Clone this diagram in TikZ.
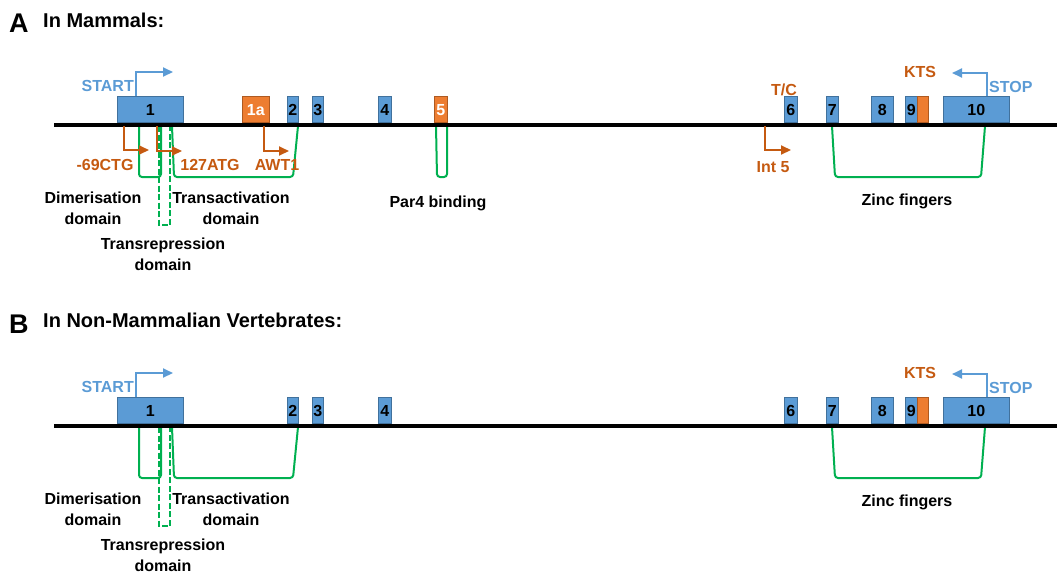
\documentclass[tikz,border=0pt]{standalone}
\usepackage{fontspec}
\setmainfont{Liberation Sans}
\usetikzlibrary{arrows.meta,calc}

\definecolor{exonblue}{HTML}{5B9BD5}
\definecolor{exonedge}{HTML}{41719C}
\definecolor{exonorange}{HTML}{ED7D31}
\definecolor{orangeedge}{HTML}{AE5A21}
\definecolor{labelorange}{HTML}{C55A11}
\definecolor{domaingreen}{HTML}{00B050}

\tikzset{
  dna/.style={line width=4pt, black},
  exon/.style={draw=exonedge, fill=exonblue, line width=0.7pt, inner sep=0pt,
    minimum height=26pt, anchor=south west, font=\bfseries\fontsize{16}{19}\selectfont},
  altexon/.style={exon, draw=orangeedge, fill=exonorange, text=white},
  startarrow/.style={draw=exonblue, line width=2pt,
    -{Triangle[length=10pt,width=9pt]}},
  altarrow/.style={draw=labelorange, line width=2pt,
    -{Triangle[length=10pt,width=9pt]}},
  domline/.style={draw=domaingreen, line width=2pt, rounded corners=3pt},
  repline/.style={draw=domaingreen, line width=2pt, dash pattern=on 6pt off 2.5pt},
  bluetag/.style={text=exonblue, font=\bfseries\fontsize{16}{19}\selectfont, inner sep=0pt},
  orangetag/.style={text=labelorange, font=\bfseries\fontsize{16}{19}\selectfont, inner sep=0pt},
  domtag/.style={font=\bfseries\fontsize{16}{21}\selectfont, align=center, inner sep=0pt},
  paneltag/.style={font=\bfseries\fontsize{27}{30}\selectfont, inner sep=0pt, anchor=base west},
  paneltitle/.style={font=\bfseries\fontsize{20}{24}\selectfont, inner sep=0pt, anchor=base west},
}

% Gene elements shared by both species panels; #1 prefixes every name
\newcommand\genecore[1]{%
  % protein domains hanging below the gene
  \draw[domline] (139,126) -- (139,177) -- (161,177) -- (161,126);
  \draw[repline] (159,126) -- (159,225) -- (170,225) -- (170,126);
  \draw[domline] (172,126) -- (174,177) -- (293,177) -- (298,126);
  \draw[domline] (832,126) -- (835,177) -- (981,177) -- (985,126);
  % DNA strand
  \coordinate (#1dnaL) at (54,124.5);
  \coordinate (#1dnaR) at (1057,124.5);
  \draw[dna] (#1dnaL) -- (#1dnaR);
  % exons
  \node[exon, minimum width=66pt] (#1e1) at (117,123) {1};
  \node[exon, minimum width=11pt] (#1e2) at (287,123) {2};
  \node[exon, minimum width=11pt] (#1e3) at (312,123) {3};
  \node[exon, minimum width=13pt] (#1e4) at (378,123) {4};
  \node[exon, minimum width=13pt] (#1e6) at (784,123) {6};
  \node[exon, minimum width=12pt] (#1e7) at (826,123) {7};
  \node[exon, minimum width=22pt] (#1e8) at (871,123) {8};
  \node[exon, minimum width=12pt] (#1e9) at (905,123) {9};
  \node[altexon, minimum width=11pt] (#1kts) at (917,123) {};
  \node[exon, minimum width=66pt] (#1e10) at (943,123) {10};
  % start and stop of translation
  \coordinate (#1startend) at (173,72);
  \draw[startarrow] ([xshift=19pt]#1e1.north west) |- (#1startend);
  \node[bluetag, anchor=base east] (#1start) at (134,91) {START};
  \coordinate (#1stopend) at (952,73);
  \draw[startarrow] ([xshift=44pt]#1e10.north west) |- (#1stopend);
  \node[bluetag, anchor=base west] (#1stop) at (989,92) {STOP};
  \node[orangetag, anchor=base] (#1ktslabel) at (920,77) {KTS};
  % domain names
  \node[domtag, anchor=north] (#1dim) at (93,192) {Dimerisation\\domain};
  \node[domtag, anchor=north] (#1tact) at (231,192) {Transactivation\\domain};
  \node[domtag, anchor=north] (#1trep) at (163,238) {Transrepression\\domain};
  \node[domtag, anchor=base] (#1zinc) at (907,205) {Zinc fingers};
}

\begin{document}
\begin{tikzpicture}[x=1pt, y=-1pt]
\useasboundingbox (0,0) rectangle (1057,574);

% ---------------- A: mammals ----------------
\node[paneltag] (tagA) at (9,32) {A};
\node[paneltitle] (titleA) at (43,27) {In Mammals:};
\draw[domline] (436,126) -- (437,177) -- (447,177) -- (447,126);
\genecore{A}
\node[altexon, minimum width=27pt] (A1a) at (242,123) {1a};
\node[altexon, minimum width=13pt] (Ae5) at (434,123) {5};
% alternative translation starts
\coordinate (Actgroot) at (124,126);
\coordinate (Actgend) at (149,150);
\draw[altarrow] (Actgroot) |- (Actgend);
\node[orangetag, anchor=base] (Actg) at (105,170) {-69CTG};
\coordinate (Aatgroot) at (157,126);
\coordinate (Aatgend) at (182,151);
\draw[altarrow] (Aatgroot) |- (Aatgend);
\node[orangetag, anchor=base] (Aatg) at (210,170) {127ATG};
\coordinate (Aawtroot) at (264,126);
\coordinate (Aawtend) at (289,151);
\draw[altarrow] (Aawtroot) |- (Aawtend);
\node[orangetag, anchor=base] (Aawt) at (277,170) {AWT1};
\coordinate (Aintroot) at (765,126);
\coordinate (Aintend) at (791,150);
\draw[altarrow] (Aintroot) |- (Aintend);
\node[orangetag, anchor=base] (Aint) at (773,172) {Int 5};
\node[orangetag, anchor=base] (Atc) at (784,95) {T/C};
\node[domtag, anchor=base] (Apar) at (438,207) {Par4 binding};

% ---------------- B: non-mammalian vertebrates ----------------
\node[paneltag] (tagB) at (9,333) {B};
\node[paneltitle] (titleB) at (43,327) {In Non-Mammalian Vertebrates:};
\begin{scope}[yshift=-301pt]
\genecore{B}
\end{scope}
\end{tikzpicture}
\end{document}
